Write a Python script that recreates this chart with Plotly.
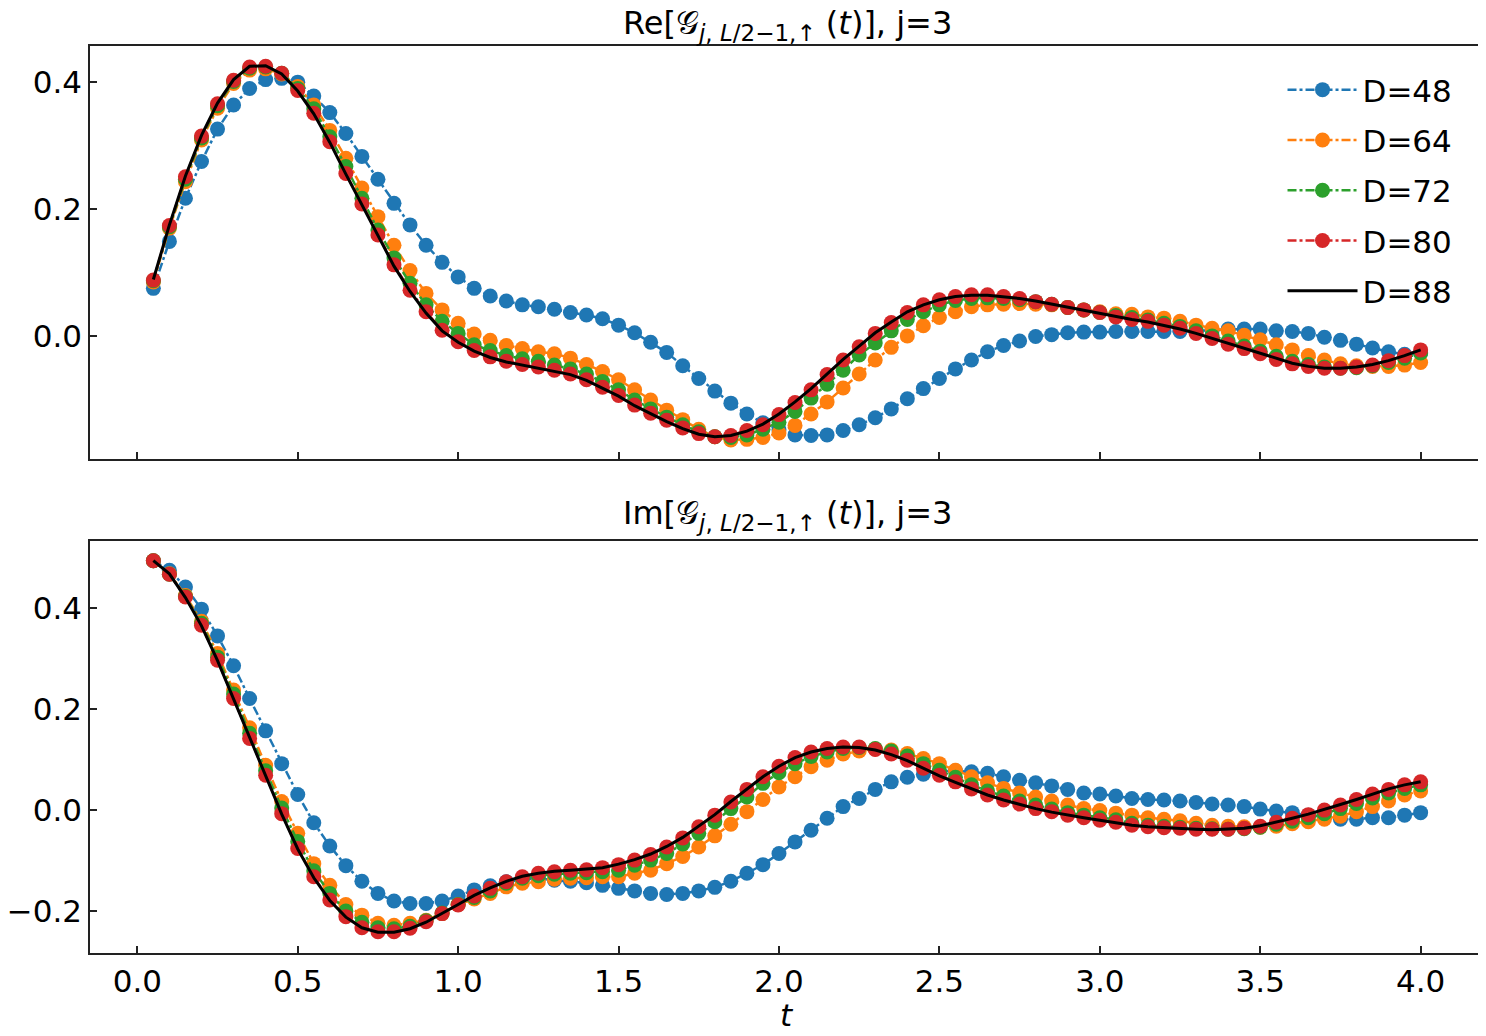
import plotly.graph_objects as go

t = [0.05, 0.10, 0.15, 0.20, 0.25, 0.30, 0.35, 0.40, 0.45, 0.50,
     0.55, 0.60, 0.65, 0.70, 0.75, 0.80, 0.85, 0.90, 0.95, 1.00,
     1.05, 1.10, 1.15, 1.20, 1.25, 1.30, 1.35, 1.40, 1.45, 1.50,
     1.55, 1.60, 1.65, 1.70, 1.75, 1.80, 1.85, 1.90, 1.95, 2.00,
     2.05, 2.10, 2.15, 2.20, 2.25, 2.30, 2.35, 2.40, 2.45, 2.50,
     2.55, 2.60, 2.65, 2.70, 2.75, 2.80, 2.85, 2.90, 2.95, 3.00,
     3.05, 3.10, 3.15, 3.20, 3.25, 3.30, 3.35, 3.40, 3.45, 3.50,
     3.55, 3.60, 3.65, 3.70, 3.75, 3.80, 3.85, 3.90, 3.95, 4.00]

labels = ["D=48", "D=64", "D=72", "D=80", "D=88"]

# ---------------- Real part ----------------
re_d48 = [0.075, 0.149, 0.217, 0.275, 0.326, 0.364, 0.390, 0.404, 0.406, 0.400,
          0.378, 0.352, 0.319, 0.283, 0.247, 0.209, 0.175, 0.143, 0.116, 0.093,
          0.075, 0.063, 0.055, 0.049, 0.046, 0.042, 0.037, 0.033, 0.027, 0.017,
          0.005, -0.010, -0.026, -0.047, -0.067, -0.087, -0.106, -0.123, -0.137, -0.148,
          -0.156, -0.157, -0.156, -0.149, -0.140, -0.129, -0.115, -0.099, -0.083, -0.067,
          -0.052, -0.038, -0.025, -0.015, -0.008, -0.001, 0.002, 0.005, 0.006, 0.006,
          0.007, 0.007, 0.007, 0.007, 0.007, 0.008, 0.009, 0.011, 0.011, 0.011,
          0.008, 0.007, 0.004, -0.002, -0.007, -0.013, -0.019, -0.025, -0.029, -0.027]
re_d64 = [0.085, 0.170, 0.243, 0.309, 0.359, 0.398, 0.419, 0.421, 0.413, 0.393,
          0.364, 0.324, 0.280, 0.233, 0.188, 0.143, 0.103, 0.067, 0.041, 0.020,
          0.003, -0.007, -0.015, -0.020, -0.025, -0.028, -0.035, -0.045, -0.056, -0.069,
          -0.085, -0.101, -0.117, -0.132, -0.147, -0.159, -0.164, -0.163, -0.160, -0.153,
          -0.141, -0.123, -0.104, -0.082, -0.060, -0.038, -0.018, 0.000, 0.016, 0.029,
          0.038, 0.046, 0.049, 0.050, 0.051, 0.050, 0.049, 0.045, 0.041, 0.038,
          0.035, 0.034, 0.030, 0.028, 0.023, 0.017, 0.012, 0.008, 0.001, -0.006,
          -0.014, -0.022, -0.031, -0.038, -0.044, -0.047, -0.048, -0.048, -0.046, -0.042]
re_d72 = [0.087, 0.172, 0.247, 0.312, 0.363, 0.401, 0.422, 0.424, 0.414, 0.390,
          0.358, 0.314, 0.267, 0.217, 0.167, 0.123, 0.083, 0.049, 0.023, 0.004,
          -0.014, -0.023, -0.031, -0.036, -0.040, -0.046, -0.052, -0.060, -0.072, -0.085,
          -0.101, -0.115, -0.128, -0.140, -0.151, -0.159, -0.160, -0.156, -0.147, -0.136,
          -0.119, -0.098, -0.076, -0.054, -0.030, -0.011, 0.008, 0.026, 0.038, 0.049,
          0.056, 0.059, 0.060, 0.059, 0.057, 0.054, 0.050, 0.045, 0.041, 0.037,
          0.032, 0.029, 0.025, 0.020, 0.015, 0.008, 0.000, -0.008, -0.016, -0.024,
          -0.032, -0.040, -0.045, -0.049, -0.051, -0.050, -0.047, -0.042, -0.035, -0.027]
re_d80 = [0.088, 0.174, 0.251, 0.315, 0.366, 0.403, 0.424, 0.425, 0.414, 0.387,
          0.351, 0.306, 0.256, 0.208, 0.159, 0.112, 0.072, 0.038, 0.009, -0.009,
          -0.023, -0.033, -0.040, -0.045, -0.049, -0.054, -0.060, -0.069, -0.081, -0.094,
          -0.109, -0.122, -0.133, -0.145, -0.154, -0.159, -0.157, -0.149, -0.140, -0.124,
          -0.105, -0.085, -0.061, -0.038, -0.017, 0.004, 0.021, 0.037, 0.049, 0.057,
          0.062, 0.065, 0.065, 0.062, 0.059, 0.054, 0.050, 0.045, 0.041, 0.037,
          0.030, 0.026, 0.023, 0.017, 0.012, 0.004, -0.004, -0.013, -0.020, -0.028,
          -0.037, -0.044, -0.048, -0.051, -0.051, -0.049, -0.046, -0.039, -0.031, -0.022]
re_d88 = [0.089, 0.175, 0.252, 0.316, 0.367, 0.404, 0.425, 0.426, 0.413, 0.386,
          0.350, 0.305, 0.255, 0.206, 0.157, 0.110, 0.070, 0.036, 0.008, -0.010,
          -0.024, -0.034, -0.041, -0.046, -0.050, -0.055, -0.061, -0.070, -0.082, -0.095,
          -0.110, -0.123, -0.135, -0.146, -0.155, -0.159, -0.157, -0.150, -0.139, -0.123,
          -0.104, -0.083, -0.060, -0.037, -0.016, 0.005, 0.022, 0.038, 0.049, 0.057,
          0.062, 0.064, 0.064, 0.062, 0.059, 0.055, 0.050, 0.046, 0.041, 0.036,
          0.031, 0.026, 0.022, 0.017, 0.011, 0.004, -0.004, -0.012, -0.020, -0.028,
          -0.036, -0.043, -0.048, -0.051, -0.051, -0.049, -0.045, -0.039, -0.031, -0.022]

# ---------------- Imaginary part ----------------
im_d48 = [0.494, 0.475, 0.442, 0.398, 0.345, 0.286, 0.221, 0.157, 0.092, 0.031,
          -0.025, -0.071, -0.110, -0.141, -0.165, -0.180, -0.185, -0.185, -0.180, -0.170,
          -0.158, -0.150, -0.142, -0.138, -0.135, -0.139, -0.141, -0.144, -0.149, -0.155,
          -0.160, -0.165, -0.167, -0.165, -0.160, -0.153, -0.141, -0.125, -0.108, -0.086,
          -0.063, -0.040, -0.016, 0.007, 0.023, 0.041, 0.056, 0.065, 0.071, 0.077,
          0.078, 0.076, 0.073, 0.066, 0.059, 0.054, 0.048, 0.041, 0.034, 0.032,
          0.028, 0.023, 0.021, 0.020, 0.018, 0.015, 0.012, 0.010, 0.007, 0.002,
          -0.002, -0.005, -0.010, -0.013, -0.018, -0.018, -0.015, -0.015, -0.010, -0.005]
im_d64 = [0.494, 0.468, 0.425, 0.374, 0.310, 0.238, 0.163, 0.089, 0.017, -0.046,
          -0.106, -0.149, -0.187, -0.208, -0.224, -0.228, -0.224, -0.218, -0.205, -0.187,
          -0.176, -0.165, -0.152, -0.145, -0.142, -0.137, -0.135, -0.134, -0.132, -0.132,
          -0.125, -0.119, -0.106, -0.092, -0.073, -0.051, -0.028, -0.003, 0.021, 0.046,
          0.066, 0.086, 0.099, 0.111, 0.117, 0.121, 0.119, 0.112, 0.102, 0.092,
          0.079, 0.066, 0.054, 0.043, 0.034, 0.026, 0.018, 0.010, 0.003, -0.001,
          -0.006, -0.010, -0.015, -0.018, -0.021, -0.026, -0.030, -0.032, -0.033, -0.034,
          -0.032, -0.027, -0.023, -0.018, -0.012, -0.003, 0.007, 0.018, 0.030, 0.038]
im_d72 = [0.494, 0.467, 0.423, 0.370, 0.303, 0.230, 0.152, 0.078, 0.004, -0.062,
          -0.120, -0.165, -0.200, -0.222, -0.233, -0.235, -0.230, -0.219, -0.204, -0.187,
          -0.173, -0.160, -0.145, -0.135, -0.130, -0.127, -0.125, -0.124, -0.122, -0.119,
          -0.109, -0.099, -0.086, -0.067, -0.046, -0.023, 0.003, 0.026, 0.053, 0.074,
          0.092, 0.106, 0.115, 0.122, 0.124, 0.122, 0.117, 0.107, 0.092, 0.079,
          0.065, 0.050, 0.038, 0.028, 0.018, 0.010, 0.002, -0.005, -0.010, -0.015,
          -0.019, -0.026, -0.030, -0.032, -0.034, -0.036, -0.037, -0.038, -0.037, -0.034,
          -0.028, -0.022, -0.015, -0.007, 0.003, 0.013, 0.024, 0.034, 0.043, 0.050]
im_d80 = [0.494, 0.467, 0.422, 0.366, 0.297, 0.221, 0.142, 0.069, -0.007, -0.076,
          -0.132, -0.178, -0.211, -0.233, -0.241, -0.241, -0.234, -0.221, -0.205, -0.188,
          -0.170, -0.155, -0.142, -0.132, -0.125, -0.122, -0.119, -0.118, -0.114, -0.108,
          -0.099, -0.088, -0.073, -0.055, -0.033, -0.010, 0.016, 0.041, 0.066, 0.087,
          0.104, 0.115, 0.122, 0.125, 0.125, 0.120, 0.111, 0.099, 0.083, 0.069,
          0.056, 0.042, 0.030, 0.020, 0.012, 0.003, -0.003, -0.010, -0.015, -0.020,
          -0.024, -0.030, -0.033, -0.035, -0.036, -0.038, -0.038, -0.038, -0.036, -0.032,
          -0.024, -0.016, -0.009, 0.000, 0.010, 0.021, 0.032, 0.041, 0.050, 0.056]
im_d88 = [0.494, 0.468, 0.421, 0.365, 0.296, 0.220, 0.141, 0.067, -0.008, -0.077,
          -0.134, -0.179, -0.212, -0.233, -0.242, -0.242, -0.235, -0.222, -0.205, -0.187,
          -0.169, -0.154, -0.141, -0.131, -0.125, -0.121, -0.119, -0.117, -0.114, -0.107,
          -0.098, -0.087, -0.072, -0.054, -0.032, -0.009, 0.017, 0.042, 0.066, 0.087,
          0.104, 0.115, 0.122, 0.125, 0.124, 0.119, 0.110, 0.098, 0.083, 0.068,
          0.055, 0.042, 0.030, 0.020, 0.011, 0.003, -0.004, -0.010, -0.015, -0.020,
          -0.025, -0.030, -0.033, -0.035, -0.037, -0.038, -0.039, -0.038, -0.036, -0.031,
          -0.024, -0.016, -0.008, 0.001, 0.011, 0.021, 0.032, 0.042, 0.050, 0.056]

colors = ["#1f77b4", "#ff7f0e", "#2ca02c", "#d62728"]

FONT = "DejaVu Sans, Liberation Sans, sans-serif"
FS = 31

fig = go.Figure()

re_series = [re_d48, re_d64, re_d72, re_d80]
im_series = [im_d48, im_d64, im_d72, im_d80]

for i, (ys, col) in enumerate(zip(re_series, colors)):
    fig.add_trace(go.Scatter(
        x=t, y=ys, mode="lines+markers", name=labels[i],
        legendgroup=labels[i],
        line=dict(color=col, width=2.5, dash="dashdot"),
        marker=dict(color=col, size=15, symbol="circle"),
        xaxis="x", yaxis="y"))
fig.add_trace(go.Scatter(
    x=t, y=re_d88, mode="lines", name=labels[4], legendgroup=labels[4],
    line=dict(color="black", width=3), xaxis="x", yaxis="y"))

for i, (ys, col) in enumerate(zip(im_series, colors)):
    fig.add_trace(go.Scatter(
        x=t, y=ys, mode="lines+markers", name=labels[i],
        legendgroup=labels[i], showlegend=False,
        line=dict(color=col, width=2.5, dash="dashdot"),
        marker=dict(color=col, size=15, symbol="circle"),
        xaxis="x2", yaxis="y2"))
fig.add_trace(go.Scatter(
    x=t, y=im_d88, mode="lines", name=labels[4], legendgroup=labels[4],
    showlegend=False,
    line=dict(color="black", width=3), xaxis="x2", yaxis="y2"))

axis_common = dict(
    showline=True, linecolor="#222222", linewidth=1.6, mirror=True,
    ticks="inside", ticklen=7, tickwidth=1.6, tickcolor="#222222",
    showgrid=False, zeroline=False,
    tickfont=dict(family=FONT, size=FS, color="black"),
)

H = 1036.0
fig.update_layout(
    width=1486, height=1036,
    margin=dict(l=82, r=10, t=0, b=0, autoexpand=False),
    paper_bgcolor="white", plot_bgcolor="white",
    font=dict(family=FONT, size=FS, color="black"),
    xaxis=dict(domain=[0, 1], anchor="y", range=[-0.1475, 4.1975],
               tickvals=[0, 0.5, 1, 1.5, 2, 2.5, 3, 3.5, 4],
               showticklabels=False, **axis_common),
    yaxis=dict(domain=[1 - 451 / H, 1 - 38 / H], anchor="x",
               range=[-0.194, 0.457], tickvals=[0.0, 0.2, 0.4],
               ticktext=["0.0", "0.2", "0.4"], **axis_common),
    xaxis2=dict(domain=[0, 1], anchor="y2", range=[-0.1475, 4.1975],
                tickvals=[0, 0.5, 1, 1.5, 2, 2.5, 3, 3.5, 4],
                ticktext=["0.0", "0.5", "1.0", "1.5", "2.0", "2.5", "3.0", "3.5", "4.0"],
                **axis_common),
    yaxis2=dict(domain=[1 - 945 / H, 1 - 533 / H], anchor="x2",
                range=[-0.283, 0.533], tickvals=[-0.2, 0.0, 0.2, 0.4],
                ticktext=["\u22120.2", "0.0", "0.2", "0.4"], **axis_common),
    showlegend=True,
    legend=dict(x=0.981, xanchor="right", y=1 - 55 / H, yanchor="top",
                bgcolor="rgba(255,255,255,0)", borderwidth=0,
                font=dict(family=FONT, size=FS, color="black"),
                tracegroupgap=7, itemwidth=70),
)

SUB = ("<sub><span style='font-size:23px'><i>j</i>, <i>L</i>/2\u22121,\u2191"
       "</span></sub>")
title_re = "Re[\U0001D4A2" + SUB + " (<i>t</i>)], j=3"
title_im = "Im[\U0001D4A2" + SUB + " (<i>t</i>)], j=3"
fig.add_annotation(text=title_re, x=0.5, xref="paper", y=1 - 17 / H, yref="paper",
                   xanchor="center", yanchor="middle", showarrow=False,
                   font=dict(family=FONT, size=32, color="black"))
fig.add_annotation(text=title_im, x=0.5, xref="paper", y=1 - 507 / H, yref="paper",
                   xanchor="center", yanchor="middle", showarrow=False,
                   font=dict(family=FONT, size=32, color="black"))
fig.add_annotation(text="<i>t</i>", x=0.5, xref="paper", y=1 - 1007 / H, yref="paper",
                   xanchor="center", yanchor="middle", showarrow=False,
                   font=dict(family=FONT, size=FS, color="black"))

fig.write_html("out.html")
